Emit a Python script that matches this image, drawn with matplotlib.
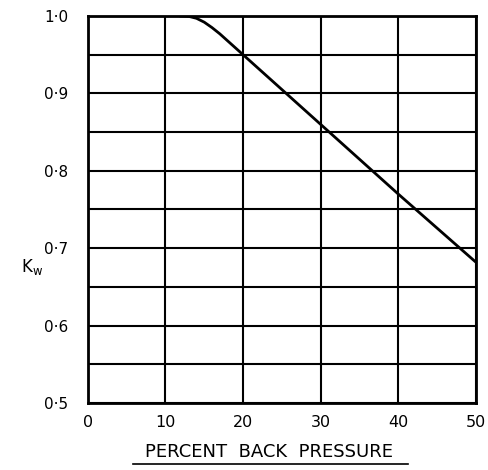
import matplotlib
matplotlib.use("Agg")
from matplotlib import pyplot as plt
from matplotlib.lines import Line2D

# curve values
back_pressure = [12, 13, 14, 15, 16, 17, 18, 19, 20, 30, 40, 50]
kw = [1.0, 0.9995, 0.997, 0.992, 0.985, 0.977, 0.968, 0.959, 0.95, 0.86, 0.77, 0.682]

x_ticks = [0, 10, 20, 30, 40, 50]
y_ticks = [0.5, 0.6, 0.7, 0.8, 0.9, 1.0]
y_labels = ["0·5", "0·6", "0·7", "0·8", "0·9", "1·0"]
y_grid = [0.55, 0.65, 0.75, 0.85, 0.95]

fig = plt.figure(figsize=(4.88, 4.70), dpi=100)
ax = fig.add_axes([0.180, 0.1426, 0.795, 0.8234])

# grid
for x in x_ticks:
    ax.axvline(x, color="black", lw=1.5, zorder=1)
for y in y_ticks + y_grid:
    ax.axhline(y, color="black", lw=1.5, zorder=1)

ax.plot(back_pressure, kw, color="black", lw=2, zorder=3)

ax.set_xlim(0, 50)
ax.set_ylim(0.5, 1.0)
ax.set_xticks(x_ticks)
ax.set_yticks(y_ticks)
ax.set_yticklabels(y_labels)
ax.tick_params(length=0, labelsize=11)
ax.tick_params(axis="x", labelsize=11.5, pad=9)
ax.tick_params(axis="y", pad=14)
for s in ax.spines.values():
    s.set_linewidth(2)

fig.text(0.043, 0.432, "K$_{\\mathrm{w}}$", fontsize=12, ha="left", va="center")

fig.text(0.551, 0.038, "PERCENT  BACK  PRESSURE", fontsize=13, ha="center", va="center")
fig.add_artist(Line2D([0.273, 0.836], [0.013, 0.013], transform=fig.transFigure,
                      color="black", lw=1.2))

plt.savefig("out.png", dpi=100)
